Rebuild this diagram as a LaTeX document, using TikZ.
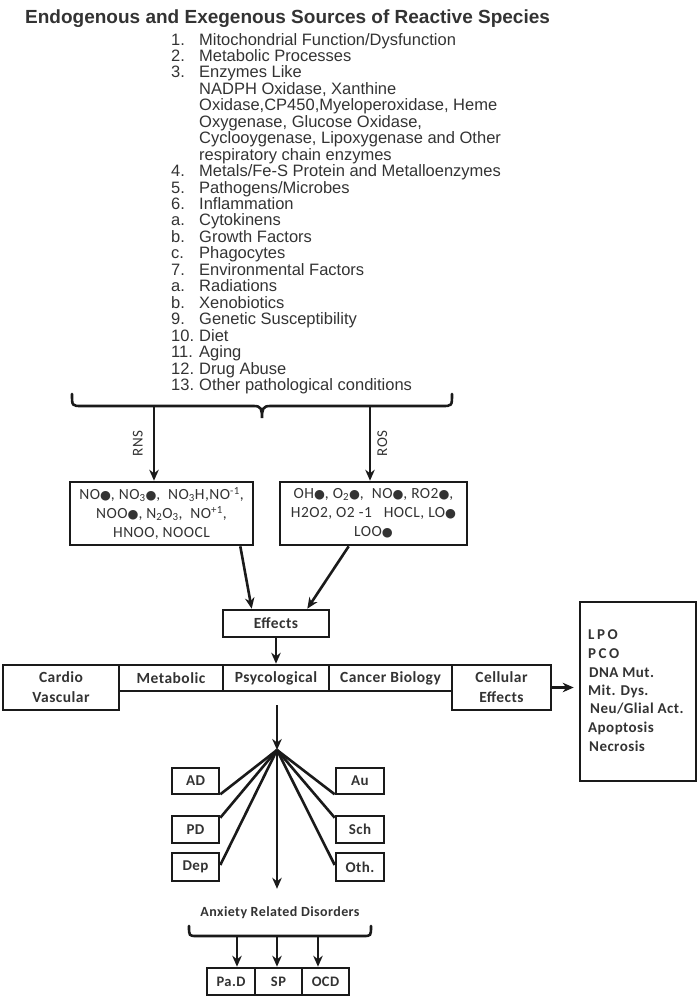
\documentclass[tikz,border=0pt]{standalone}
\usepackage{fontspec}
\setmainfont{Liberation Sans}
\newfontfamily\carl{Carlito}
\newfontfamily\carlsp[LetterSpace=3]{Carlito}
\newfontfamily\dv{DejaVu Sans}
\usetikzlibrary{arrows.meta}
\definecolor{txt}{HTML}{333333}
\definecolor{lnc}{HTML}{1A1A1A}
\newcommand\bl{{\dv\fontsize{12.5}{12}\selectfont ●}}
\newcommand\li[3]{%
  \node[lst,anchor=base west] (num#1) at (171,{45+16.45*#1}) {#2};
  \node[lst,anchor=base west] (itm#1) at (199,{45+16.45*#1}) {#3};}
\newcommand\lt[2]{%
  \node[lst,anchor=base west] (itm#1) at (199,{45+16.45*#1}) {#2};}
\begin{document}
\begin{tikzpicture}[x=1pt,y=-1pt,
  lst/.style={inner sep=0pt,text=txt,font=\fontsize{16.5}{16.5}\selectfont},
  box/.style={draw=lnc,line width=2.6pt,inner sep=0pt,text=txt,
    font=\carlsp\bfseries\fontsize{15.5}{20}\selectfont,align=center},
  sbox/.style={box,font=\carlsp\bfseries\fontsize{15}{16}\selectfont},
  rtxt/.style={inner sep=0pt,text=txt,anchor=base west,
    font=\carlsp\bfseries\fontsize{15}{16}\selectfont},
  arr/.style={draw=lnc,line width=2.6pt,-{Stealth[length=11pt,width=9.5pt,inset=3.5pt]}},
  lnk/.style={draw=lnc,line width=2.6pt}]
\useasboundingbox (0,0) rectangle (698,997);

% title
\node[inner sep=0pt,anchor=base west,text=txt,font=\bfseries\fontsize{19}{19}\selectfont]
  (title) at (25,23) {Endogenous and Exegenous Sources of Reactive Species};

% list
\li{0}{1.}{Mitochondrial Function/Dysfunction}
\li{1}{2.}{Metabolic Processes}
\li{2}{3.}{Enzymes Like}
\lt{3}{NADPH Oxidase, Xanthine}
\lt{4}{Oxidase,CP450,Myeloperoxidase, Heme}
\lt{5}{Oxygenase, Glucose Oxidase,}
\lt{6}{Cyclooygenase, Lipoxygenase and Other}
\lt{7}{respiratory chain enzymes}
\li{8}{4.}{Metals/Fe-S Protein and Metalloenzymes}
\li{9}{5.}{Pathogens/Microbes}
\li{10}{6.}{Inflammation}
\li{11}{a.}{Cytokinens}
\li{12}{b.}{Growth Factors}
\li{13}{c.}{Phagocytes}
\li{14}{7.}{Environmental Factors}
\li{15}{a.}{Radiations}
\li{16}{b.}{Xenobiotics}
\li{17}{9.}{Genetic Susceptibility}
\li{18}{10.}{Diet}
\li{19}{11.}{Aging}
\li{20}{12.}{Drug Abuse}
\li{21}{13.}{Other pathological conditions}

% top brace
\draw[lnk,line cap=round] (72,394) .. controls (72,406) .. (82,406) -- (254,406)
  .. controls (261,406) and (262,409) .. (262,418)
  .. controls (262,409) and (263,406) .. (270,406) -- (442,406)
  .. controls (452,406) .. (452,394);
\coordinate (bL) at (154,406);
\coordinate (bR) at (370,406);

% RNS / ROS boxes
\node[box,minimum width=183pt,minimum height=63pt,
  font=\carlsp\fontsize{15.5}{19}\selectfont] (rns) at (161.5,513.5)
  {NO\bl, NO\textsubscript{3}\bl,~ NO\textsubscript{3}H,NO\textsuperscript{-1},\\
   NOO\bl, N\textsubscript{2}O\textsubscript{3},~ NO\textsuperscript{+1},\\
   HNOO, NOOCL};
\node[box,minimum width=187pt,minimum height=63pt,
  font=\carlsp\fontsize{15.5}{19}\selectfont] (ros) at (373.5,513.5)
  {OH\bl, O\textsubscript{2}\bl,~ NO\bl, RO2\bl,\\
   H2O2, O2 -1~~ HOCL, LO\bl\\
   LOO\bl};
\draw[arr] (bL) -- (bL |- rns.north) node[midway,left=10pt,rotate=90,anchor=south,
  inner sep=0pt,text=txt,font=\carlsp\fontsize{15}{15}\selectfont] (rnslbl) {RNS};
\draw[arr] (bR) -- (bR |- ros.north) node[midway,right=6pt,rotate=90,anchor=north,
  inner sep=0pt,text=txt,font=\carlsp\fontsize{15}{15}\selectfont] (roslbl) {ROS};

% Effects
\node[box,minimum width=106pt,minimum height=27pt] (eff) at (276,623.5) {Effects};
\draw[arr] ([xshift=-14pt]rns.south east) -- ([xshift=30pt]eff.north west);
\draw[arr] ([xshift=70pt]ros.south west) -- ([xshift=-23pt]eff.north east);

% row
\node[box,minimum width=116pt,minimum height=45pt] (cv) at (61,687.5) {Cardio\\Vascular};
\node[box,minimum width=104pt,minimum height=26pt] (met) at (171,678) {Metabolic};
\node[box,minimum width=106pt,minimum height=26pt] (psy) at (276,678) {Psycological};
\node[box,minimum width=123pt,minimum height=26pt] (can) at (390.5,678) {Cancer Biology};
\node[box,minimum width=99pt,minimum height=45pt] (cel) at (501.5,687.5) {Cellular\\Effects};
\draw[arr] (eff.south) -- (psy.north);

% right box
\node[draw=lnc,line width=2.6pt,minimum width=116pt,minimum height=179pt,inner sep=0pt]
  (rb) at (638,691.5) {};
\node[rtxt] (r1) at (588,639) {L\,P\,O};
\node[rtxt] (r2) at (588,658) {P\,C\,O};
\node[rtxt] (r3) at (589,677) {DNA Mut.};
\node[rtxt] (r4) at (588,695) {Mit. Dys.};
\node[rtxt] (r5) at (590,713) {Neu/Glial Act.};
\node[rtxt] (r6) at (588,732) {Apoptosis};
\node[rtxt] (r7) at (589,751) {Necrosis};
\draw[arr] (cel.east) -- ([xshift=-5pt]rb.west |- cel.east);

% hub
\coordinate (vtop) at (277,705);
\coordinate (hub) at (277,750);
\draw[arr] (vtop) -- (hub);

\node[sbox,minimum width=47pt,minimum height=26pt] (ad) at (195.5,781) {AD};
\node[sbox,minimum width=47pt,minimum height=27pt] (pd) at (195.5,829.5) {PD};
\node[sbox,minimum width=47pt,minimum height=28pt] (dep) at (195.5,867) {Dep};
\node[sbox,minimum width=48pt,minimum height=26pt] (au) at (360,781) {Au};
\node[sbox,minimum width=48pt,minimum height=27pt] (sch) at (360,829.5) {Sch};
\node[sbox,minimum width=48pt,minimum height=28pt] (oth) at (360,867) {Oth.};

\draw[lnk] (hub) -- ([yshift=1pt]ad.south east);
\draw[lnk] (hub) -- ([yshift=-3pt]pd.north east);
\draw[lnk] (hub) -- ([yshift=2pt]dep.east);
\draw[lnk] (hub) -- ([yshift=1pt]au.south west);
\draw[lnk] (hub) -- ([yshift=-3pt]sch.north west);
\draw[lnk] (hub) -- ([yshift=2pt]oth.west);

\node[inner sep=0pt,text=txt,font=\carlsp\bfseries\fontsize{14}{14}\selectfont]
  (anx) at (280,913) {Anxiety Related Disorders};
\draw[arr] (hub) -- ([yshift=18pt]hub |- anx.north);

% bottom brace
\draw[lnk,line cap=round] (189,926) .. controls (189,936) .. (197,936) -- (363,936)
  .. controls (371,936) .. (371,926);
\coordinate (c1) at (237,936);
\coordinate (c2) at (277,936);
\coordinate (c3) at (318,936);

\node[sbox,font=\carlsp\bfseries\fontsize{14.5}{16}\selectfont,minimum width=48pt,minimum height=27pt] (pa) at (231,981.5) {Pa.D};
\node[sbox,font=\carlsp\bfseries\fontsize{14.5}{16}\selectfont,minimum width=47pt,minimum height=27pt] (sp) at (278.5,981.5) {SP};
\node[sbox,font=\carlsp\bfseries\fontsize{14.5}{16}\selectfont,minimum width=47pt,minimum height=27pt] (ocd) at (325.5,981.5) {OCD};
\draw[arr] (c1) -- (c1 |- pa.north);
\draw[arr] (c2) -- (c2 |- sp.north);
\draw[arr] (c3) -- (c3 |- ocd.north);
\end{tikzpicture}
\end{document}
